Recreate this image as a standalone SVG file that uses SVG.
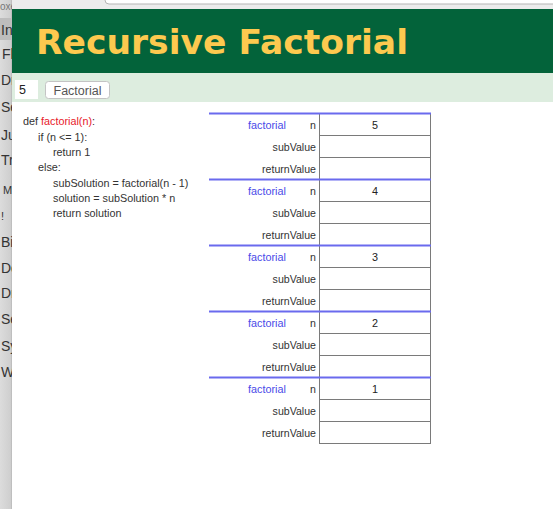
<svg xmlns="http://www.w3.org/2000/svg" width="553" height="509" viewBox="0 0 553 509">
<defs>
<linearGradient id="side" x1="0" y1="0" x2="1" y2="0">
<stop offset="0" stop-color="#dcdcdc"/>
<stop offset="0.8" stop-color="#cfcfcf"/>
<stop offset="1" stop-color="#a8a8a8"/>
</linearGradient>
</defs>
<style>
.side{font-family:"Liberation Sans",Arial,sans-serif;font-size:14px;fill:#333}
.code{font-family:"Liberation Sans",Arial,sans-serif;font-size:10.8px;fill:#333}
.red{fill:#e8202a}
.lbl{font-family:"Liberation Sans",Arial,sans-serif;font-size:10.6px;fill:#333;text-anchor:end}
.fn{font-family:"Liberation Sans",Arial,sans-serif;font-size:10.8px;fill:#4a4ae8}
.val{font-family:"Liberation Sans",Arial,sans-serif;font-size:10.8px;fill:#222;text-anchor:middle}
.blue{stroke:#6a6aee;stroke-width:2}
.grid{stroke:#7a7a7a;stroke-width:1;fill:none}
</style>
<!-- sidebar -->
<g id="sidebar">
<rect x="0" y="0" width="13" height="509" fill="url(#side)"/>
<rect x="0" y="18" width="12" height="22" fill="#bdbdbd"/>
<text x="0" y="10" class="side" style="fill:#777;font-size:10px">oxe</text>
<text x="1" y="35" class="side">Ini</text>
<text x="2" y="59" class="side">Fla</text>
<text x="1" y="85" class="side">Dr</text>
<text x="1" y="112" class="side">Se</text>
<text x="1" y="140" class="side">Ju</text>
<text x="1" y="165" class="side">Tr</text>
<text x="3" y="194" class="side" style="font-size:11px">M</text>
<text x="1" y="220" class="side" style="font-size:11px">!</text>
<text x="1" y="247" class="side">Bi</text>
<text x="1" y="273" class="side">De</text>
<text x="1" y="298" class="side">Dr</text>
<text x="1" y="324" class="side">Se</text>
<text x="1" y="351" class="side">Sy</text>
<text x="1" y="377" class="side">W</text>
</g>
<!-- main panel -->
<g id="panel">
<rect x="12" y="0" width="541" height="509" fill="#ffffff"/>
<rect x="12" y="0" width="541" height="9" fill="#ececec"/>
<rect x="105" y="-10" width="460" height="14" rx="4" fill="#ffffff" stroke="#b5b5b5" stroke-width="1"/>
<rect x="12" y="9" width="541" height="64" fill="#03633a"/>
<text x="36" y="54" font-family="'DejaVu Sans',Verdana,sans-serif" font-weight="bold" font-size="34" fill="#fdc94f" textLength="372" lengthAdjust="spacingAndGlyphs">Recursive Factorial</text>
<rect x="12" y="73" width="541" height="29" fill="#ddeddf"/>
</g>
<g id="input">
<rect x="15" y="80" width="23" height="19" fill="#ffffff"/>
<text x="19" y="94" font-family="'Liberation Sans',Arial,sans-serif" font-size="12.5" fill="#222">5</text>
</g>
<g id="button">
<rect x="45.5" y="81.5" width="64" height="17" rx="3" fill="#ffffff" stroke="#c4c4c4"/>
<text x="77.5" y="94.5" text-anchor="middle" font-family="'Liberation Sans',Arial,sans-serif" font-size="12.5" fill="#555">Factorial</text>
</g>
<g id="code">
<text x="23" y="125" class="code">def <tspan class="red">factorial(n)</tspan>:</text>
<text x="38" y="140.5" class="code">if (n &lt;= 1):</text>
<text x="53" y="156" class="code">return 1</text>
<text x="38" y="171" class="code">else:</text>
<text x="53" y="186.5" class="code">subSolution = factorial(n - 1)</text>
<text x="53" y="202" class="code">solution = subSolution * n</text>
<text x="53" y="217" class="code">return solution</text>
</g>
<!-- frames -->
<g id="frame5" transform="translate(0,113.5)">
<line x1="319.5" y1="0" x2="319.5" y2="66" class="grid"/><line x1="430.5" y1="0" x2="430.5" y2="66" class="grid"/>
<line x1="319" y1="22" x2="431" y2="22" class="grid"/><line x1="319" y1="44" x2="431" y2="44" class="grid"/>
<line x1="209" y1="0" x2="431" y2="0" class="blue"/>
<text x="248" y="15.5" class="fn">factorial</text><text x="316" y="15.5" class="lbl">n</text><text x="375" y="15.5" class="val">5</text>
<text x="316" y="37.5" class="lbl">subValue</text><text x="316" y="59.5" class="lbl">returnValue</text>
</g>
<g id="frame4" transform="translate(0,179.5)">
<line x1="319.5" y1="0" x2="319.5" y2="66" class="grid"/><line x1="430.5" y1="0" x2="430.5" y2="66" class="grid"/>
<line x1="319" y1="22" x2="431" y2="22" class="grid"/><line x1="319" y1="44" x2="431" y2="44" class="grid"/>
<line x1="209" y1="0" x2="431" y2="0" class="blue"/>
<text x="248" y="15.5" class="fn">factorial</text><text x="316" y="15.5" class="lbl">n</text><text x="375" y="15.5" class="val">4</text>
<text x="316" y="37.5" class="lbl">subValue</text><text x="316" y="59.5" class="lbl">returnValue</text>
</g>
<g id="frame3" transform="translate(0,245.5)">
<line x1="319.5" y1="0" x2="319.5" y2="66" class="grid"/><line x1="430.5" y1="0" x2="430.5" y2="66" class="grid"/>
<line x1="319" y1="22" x2="431" y2="22" class="grid"/><line x1="319" y1="44" x2="431" y2="44" class="grid"/>
<line x1="209" y1="0" x2="431" y2="0" class="blue"/>
<text x="248" y="15.5" class="fn">factorial</text><text x="316" y="15.5" class="lbl">n</text><text x="375" y="15.5" class="val">3</text>
<text x="316" y="37.5" class="lbl">subValue</text><text x="316" y="59.5" class="lbl">returnValue</text>
</g>
<g id="frame2" transform="translate(0,311.5)">
<line x1="319.5" y1="0" x2="319.5" y2="66" class="grid"/><line x1="430.5" y1="0" x2="430.5" y2="66" class="grid"/>
<line x1="319" y1="22" x2="431" y2="22" class="grid"/><line x1="319" y1="44" x2="431" y2="44" class="grid"/>
<line x1="209" y1="0" x2="431" y2="0" class="blue"/>
<text x="248" y="15.5" class="fn">factorial</text><text x="316" y="15.5" class="lbl">n</text><text x="375" y="15.5" class="val">2</text>
<text x="316" y="37.5" class="lbl">subValue</text><text x="316" y="59.5" class="lbl">returnValue</text>
</g>
<g id="frame1" transform="translate(0,377.5)">
<line x1="319.5" y1="0" x2="319.5" y2="66" class="grid"/><line x1="430.5" y1="0" x2="430.5" y2="66" class="grid"/>
<line x1="319" y1="22" x2="431" y2="22" class="grid"/><line x1="319" y1="44" x2="431" y2="44" class="grid"/>
<line x1="319" y1="66" x2="431" y2="66" class="grid"/>
<line x1="209" y1="0" x2="431" y2="0" class="blue"/>
<text x="248" y="15.5" class="fn">factorial</text><text x="316" y="15.5" class="lbl">n</text><text x="375" y="15.5" class="val">1</text>
<text x="316" y="37.5" class="lbl">subValue</text><text x="316" y="59.5" class="lbl">returnValue</text>
</g>
<g id="connectors"></g>
</svg>
